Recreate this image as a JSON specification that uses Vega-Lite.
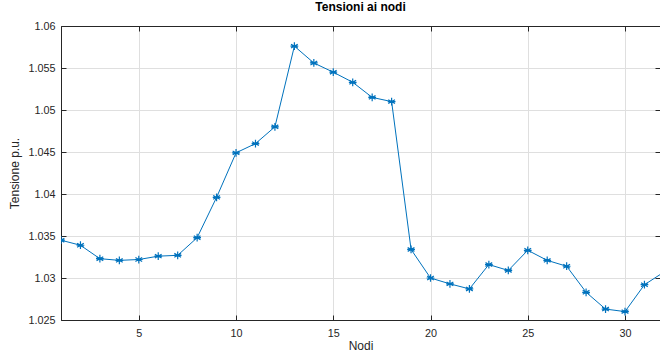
{
  "$schema": "https://vega.github.io/schema/vega-lite/v6.json",
  "width": 599,
  "height": 294,
  "autosize": {"type": "none"},
  "padding": {"left": 61, "top": 26, "right": 0, "bottom": 32},
  "background": "white",
  "config": {
    "view": {"stroke": "#262626", "strokeWidth": 1},
    "font": "Liberation Sans",
    "axis": {
      "domainColor": "#262626",
      "tickColor": "#262626",
      "labelColor": "#262626",
      "titleColor": "#262626",
      "labelFont": "Liberation Sans",
      "titleFont": "Liberation Sans",
      "labelFontSize": 10.8,
      "titleFontSize": 12,
      "titleFontWeight": "normal",
      "gridColor": "#dfdfdf",
      "gridOpacity": 1,
      "tickSize": -5,
      "domainWidth": 1,
      "tickWidth": 1
    }
  },
  "title": {
    "text": "Tensioni ai nodi",
    "font": "Liberation Sans",
    "fontSize": 12,
    "fontWeight": "bold",
    "color": "#000000",
    "anchor": "middle",
    "offset": 6
  },
  "data": {
    "values": [
      {"nodo": 1, "v": 1.0345},
      {"nodo": 2, "v": 1.0339},
      {"nodo": 3, "v": 1.0323},
      {"nodo": 4, "v": 1.0321},
      {"nodo": 5, "v": 1.0322},
      {"nodo": 6, "v": 1.0326},
      {"nodo": 7, "v": 1.0327},
      {"nodo": 8, "v": 1.0348},
      {"nodo": 9, "v": 1.0396},
      {"nodo": 10, "v": 1.0449},
      {"nodo": 11, "v": 1.0460},
      {"nodo": 12, "v": 1.0480},
      {"nodo": 13, "v": 1.0576},
      {"nodo": 14, "v": 1.0556},
      {"nodo": 15, "v": 1.0545},
      {"nodo": 16, "v": 1.0533},
      {"nodo": 17, "v": 1.0515},
      {"nodo": 18, "v": 1.0510},
      {"nodo": 19, "v": 1.0334},
      {"nodo": 20, "v": 1.0300},
      {"nodo": 21, "v": 1.0293},
      {"nodo": 22, "v": 1.0287},
      {"nodo": 23, "v": 1.0316},
      {"nodo": 24, "v": 1.0309},
      {"nodo": 25, "v": 1.0333},
      {"nodo": 26, "v": 1.0321},
      {"nodo": 27, "v": 1.0314},
      {"nodo": 28, "v": 1.0283},
      {"nodo": 29, "v": 1.0263},
      {"nodo": 30, "v": 1.0260},
      {"nodo": 31, "v": 1.0292},
      {"nodo": 32, "v": 1.0307}
    ]
  },
  "layer": [
    {
      "mark": {"type": "line", "color": "#0072BD", "strokeWidth": 1, "clip": true},
      "encoding": {
        "x": {
          "field": "nodo", "type": "quantitative",
          "scale": {"domain": [1, 31.8], "nice": false, "zero": false},
          "axis": {"values": [5, 10, 15, 20, 25, 30], "title": "Nodi", "labelPadding": 12, "titlePadding": 3, "grid": true}
        },
        "y": {
          "field": "v", "type": "quantitative",
          "scale": {"domain": [1.025, 1.06], "nice": false, "zero": false},
          "axis": {"values": [1.025, 1.03, 1.035, 1.04, 1.045, 1.05, 1.055, 1.06], "format": "~g", "title": "Tensione p.u.", "labelPadding": 11, "titlePadding": 6, "grid": true}
        }
      }
    },
    {
      "mark": {"type": "point", "shape": "M0,-1L0,1M-0.87,-0.5L0.87,0.5M-0.87,0.5L0.87,-0.5M-1,0L1,0", "filled": false, "color": "#0072BD", "strokeWidth": 1.2, "size": 60, "opacity": 1, "clip": true},
      "encoding": {
        "x": {"field": "nodo", "type": "quantitative", "scale": {"domain": [1, 31.8], "nice": false, "zero": false}, "axis": null},
        "y": {"field": "v", "type": "quantitative", "scale": {"domain": [1.025, 1.06], "nice": false, "zero": false}, "axis": null}
      }
    },
    {
      "mark": {"type": "point", "opacity": 0, "clip": true},
      "encoding": {
        "x": {"field": "nodo", "type": "quantitative", "scale": {"domain": [1, 31.8], "nice": false, "zero": false}, "axis": {"orient": "top", "values": [5, 10, 15, 20, 25, 30], "labels": false, "title": null, "grid": false}},
        "y": {"field": "v", "type": "quantitative", "scale": {"domain": [1.025, 1.06], "nice": false, "zero": false}, "axis": {"orient": "right", "values": [1.025, 1.03, 1.035, 1.04, 1.045, 1.05, 1.055, 1.06], "labels": false, "title": null, "grid": false}}
      }
    }
  ],
  "resolve": {"axis": {"x": "independent", "y": "independent"}}
}
